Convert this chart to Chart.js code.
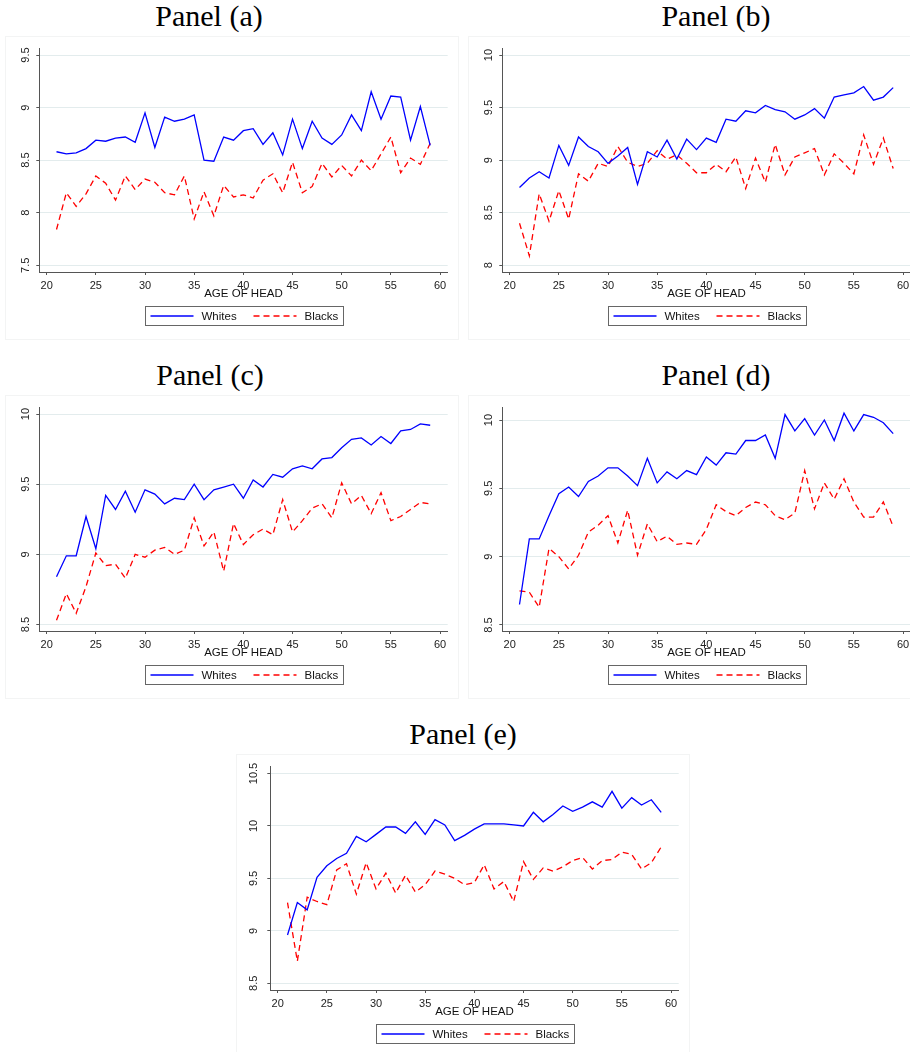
<!DOCTYPE html>
<html>
<head>
<meta charset="utf-8">
<script src="https://cdn.jsdelivr.net/npm/chart.js@4.4.0/dist/chart.umd.min.js"></script>
<style>
  html, body { margin: 0; padding: 0; background: #fff; overflow: hidden; }
  body { width: 910px; height: 1052px; position: relative; }
  .title { position: absolute; width: 240px; text-align: center; font-family: "Liberation Serif", "DejaVu Serif", serif;
           font-size: 30px; line-height: 26px; color: #000; white-space: nowrap; }
  canvas { position: absolute; }
</style>
</head>
<body>

<div class="title" style="left:89px; top:3px;">Panel (a)</div>
<div class="title" style="left:596px; top:3px;">Panel (b)</div>
<div class="title" style="left:90px; top:362px;">Panel (c)</div>
<div class="title" style="left:596px; top:362px;">Panel (d)</div>
<div class="title" style="left:343px; top:721px;">Panel (e)</div>

<canvas id="panelA" width="454" height="304" style="left:5px; top:36px;"></canvas>
<canvas id="panelB" width="454" height="304" style="left:468px; top:36px;"></canvas>
<canvas id="panelC" width="454" height="304" style="left:5px; top:395px;"></canvas>
<canvas id="panelD" width="454" height="304" style="left:468px; top:395px;"></canvas>
<canvas id="panelE" width="454" height="304" style="left:236px; top:754px;"></canvas>

<script>
// age of household head
const ages = [21, 22, 23, 24, 25, 26, 27, 28, 29, 30, 31, 32, 33, 34, 35, 36, 37, 38, 39, 40,
              41, 42, 43, 44, 45, 46, 47, 48, 49, 50, 51, 52, 53, 54, 55, 56, 57, 58, 59];
const xTicks = [20, 25, 30, 35, 40, 45, 50, 55, 60];

// panel (a)
const whitesA = [8.58, 8.56, 8.57, 8.61, 8.69, 8.68, 8.71, 8.72, 8.67, 8.95, 8.62, 8.91, 8.87, 8.89, 8.93, 8.50, 8.49, 8.72, 8.69, 8.78,
                 8.80, 8.65, 8.76, 8.55, 8.89, 8.61, 8.87, 8.71, 8.65, 8.74, 8.93, 8.78, 9.15, 8.89, 9.11, 9.10, 8.69, 9.01, 8.64];
const blacksA = [7.84, 8.19, 8.06, 8.18, 8.35, 8.28, 8.12, 8.35, 8.22, 8.32, 8.29, 8.19, 8.17, 8.35, 7.94, 8.20, 7.97, 8.26, 8.15, 8.17,
                 8.14, 8.31, 8.37, 8.19, 8.48, 8.19, 8.25, 8.47, 8.34, 8.45, 8.35, 8.50, 8.40, 8.56, 8.72, 8.38, 8.52, 8.46, 8.66];
const yTicksA = [7.5, 8, 8.5, 9, 9.5];

// panel (b)
const whitesB = [8.74, 8.83, 8.89, 8.83, 9.14, 8.95, 9.22, 9.13, 9.08, 8.97, 9.04, 9.12, 8.77, 9.08, 9.03, 9.19, 9.01, 9.20, 9.10, 9.21,
                 9.17, 9.39, 9.37, 9.47, 9.45, 9.52, 9.48, 9.46, 9.39, 9.43, 9.49, 9.40, 9.60, 9.62, 9.64, 9.70, 9.57, 9.60, 9.69];
const blacksB = [8.40, 8.09, 8.68, 8.42, 8.71, 8.44, 8.87, 8.80, 8.97, 8.94, 9.13, 8.98, 8.94, 8.97, 9.09, 9.01, 9.05, 8.97, 8.88, 8.88,
                 8.96, 8.89, 9.03, 8.73, 9.02, 8.79, 9.15, 8.86, 9.03, 9.07, 9.11, 8.86, 9.06, 8.97, 8.87, 9.24, 8.96, 9.21, 8.92];
const yTicksB = [8, 8.5, 9, 9.5, 10];

// panel (c)
const whitesC = [8.84, 8.99, 8.99, 9.27, 9.04, 9.42, 9.32, 9.45, 9.30, 9.46, 9.43, 9.36, 9.40, 9.39, 9.50, 9.39, 9.46, 9.48, 9.50, 9.40,
                 9.53, 9.48, 9.57, 9.55, 9.61, 9.63, 9.61, 9.68, 9.69, 9.76, 9.82, 9.83, 9.78, 9.84, 9.79, 9.88, 9.89, 9.93, 9.92];
const blacksC = [8.53, 8.72, 8.58, 8.77, 9.01, 8.92, 8.93, 8.83, 9.00, 8.98, 9.03, 9.05, 9.00, 9.03, 9.26, 9.06, 9.16, 8.88, 9.22, 9.07,
                 9.14, 9.18, 9.14, 9.39, 9.16, 9.24, 9.33, 9.36, 9.26, 9.51, 9.36, 9.42, 9.29, 9.44, 9.24, 9.27, 9.32, 9.37, 9.36];
const yTicksC = [8.5, 9, 9.5, 10];

// panel (d)
const whitesD = [8.65, 9.13, 9.13, 9.30, 9.46, 9.51, 9.44, 9.55, 9.59, 9.65, 9.65, 9.59, 9.52, 9.72, 9.54, 9.62, 9.57, 9.63, 9.60, 9.73,
                 9.67, 9.76, 9.75, 9.85, 9.85, 9.89, 9.72, 10.04, 9.92, 10.01, 9.89, 10.00, 9.85, 10.05, 9.92, 10.04, 10.02, 9.98, 9.90];
const blacksD = [8.75, 8.74, 8.63, 9.06, 9.00, 8.91, 9.01, 9.18, 9.23, 9.30, 9.10, 9.34, 9.01, 9.24, 9.11, 9.15, 9.09, 9.10, 9.09, 9.20,
                 9.38, 9.33, 9.30, 9.36, 9.40, 9.38, 9.30, 9.27, 9.32, 9.63, 9.35, 9.54, 9.42, 9.57, 9.40, 9.29, 9.29, 9.40, 9.22];
const yTicksD = [8.5, 9, 9.5, 10];

// panel (e)
const whitesE = [8.96, 9.27, 9.20, 9.51, 9.62, 9.69, 9.74, 9.90, 9.85, 9.92, 9.99, 9.99, 9.93, 10.04, 9.92, 10.06, 10.01, 9.86, 9.91, 9.97,
                 10.02, 10.02, 10.02, 10.01, 10.00, 10.13, 10.04, 10.11, 10.19, 10.14, 10.18, 10.23, 10.18, 10.33, 10.17, 10.27, 10.20, 10.25, 10.13];
const blacksE = [9.27, 8.71, 9.32, 9.28, 9.25, 9.58, 9.64, 9.35, 9.65, 9.40, 9.55, 9.36, 9.53, 9.37, 9.44, 9.57, 9.54, 9.50, 9.44, 9.46,
                 9.63, 9.40, 9.47, 9.28, 9.66, 9.49, 9.60, 9.57, 9.61, 9.67, 9.70, 9.59, 9.67, 9.68, 9.75, 9.73, 9.59, 9.65, 9.80];
const yTicksE = [8.5, 9, 9.5, 10, 10.5];

const axisFont = { family: "Liberation Sans, Arial, sans-serif", size: 11 };

// faint graph frame + stata-style boxed legend under the axis title
const frameAndLegend = {
  id: "frameAndLegend",
  afterDraw(chart) {
    const { ctx, chartArea, width, height } = chart;
    ctx.save();
    ctx.strokeStyle = "#f3f4f4";
    ctx.lineWidth = 1;
    ctx.setLineDash([]);
    ctx.strokeRect(0.5, 0.5, width - 1, height - 1);

    const cx = (chartArea.left + chartArea.right) / 2;
    const left = Math.round(cx - 99) + 0.5;
    const top = Math.round(chartArea.bottom + 34) + 0.5;
    ctx.strokeStyle = "#666";
    ctx.strokeRect(left, top, 198, 19);

    const mid = top + 9.5;
    const offsets = [5, 108];
    chart.data.datasets.forEach((ds, i) => {
      const x0 = left + offsets[i];
      ctx.strokeStyle = ds.borderColor;
      ctx.lineWidth = ds.borderWidth;
      ctx.setLineDash(ds.borderDash || []);
      ctx.beginPath();
      ctx.moveTo(x0, mid);
      ctx.lineTo(x0 + 43, mid);
      ctx.stroke();
      ctx.setLineDash([]);
      ctx.fillStyle = "#111";
      ctx.font = "11.5px 'Liberation Sans', Arial, sans-serif";
      ctx.textBaseline = "middle";
      ctx.fillText(ds.label, x0 + 51, mid + 0.5);
    });
    ctx.restore();
  }
};

function drawPanel(canvasId, whites, blacks, yTicks, yMin, yMax) {

  new Chart(document.getElementById(canvasId), {
    type: "line",
    data: {
      datasets: [{
        label: "Whites",
        data: ages.map((a, i) => ({ x: a, y: whites[i] })),
        borderColor: "#0000ff",
        borderWidth: 1.3,
        pointRadius: 0,
        tension: 0
      }, {
        label: "Blacks",
        data: ages.map((a, i) => ({ x: a, y: blacks[i] })),
        borderColor: "#ff0000",
        borderWidth: 1.3,
        borderDash: [6, 4],
        pointRadius: 0,
        tension: 0
      }]
    },
    options: {
      responsive: false,
      animation: false,
      layout: { padding: { top: 12.3, right: 11.3, bottom: 39.1, left: 0 } },
      plugins: { legend: { display: false }, tooltip: { enabled: false } },
      scales: {
        x: {
          type: "linear",
          min: 19.25,
          max: 60.78,
          afterBuildTicks: s => { s.ticks = xTicks.map(v => ({ value: v })); },
          afterFit: s => { s.height = 28.9; },
          grid: { drawOnChartArea: false, tickLength: 3, tickColor: "#555" },
          border: { color: "#555" },
          ticks: { font: axisFont, color: "#222", padding: 4, maxRotation: 0, autoSkip: false },
          title: { display: true, text: "AGE OF HEAD", color: "#111", padding: 0,
                   font: { family: "Liberation Sans, Arial, sans-serif", size: 11.5 } }
        },
        y: {
          min: yMin,
          max: yMax,
          afterBuildTicks: s => { s.ticks = yTicks.map(v => ({ value: v })); },
          afterFit: s => { s.width = 34.3; },
          grid: { color: "#e3eced", tickLength: 3, tickColor: "#555" },
          border: { color: "#555" },
          ticks: { font: axisFont, color: "#222", minRotation: 90, maxRotation: 90,
                   crossAlign: "center", padding: 3, callback: v => String(v) }
        }
      }
    },
    plugins: [frameAndLegend]
  });
}

drawPanel("panelA", whitesA, blacksA, yTicksA, 7.436, 9.564);
drawPanel("panelB", whitesB, blacksB, yTicksB, 7.936, 10.064);
drawPanel("panelC", whitesC, blacksC, yTicksC, 8.454, 10.048);
drawPanel("panelD", whitesD, blacksD, yTicksD, 8.456, 10.093);
drawPanel("panelE", whitesE, blacksE, yTicksE, 8.436, 10.569);
</script>
</body>
</html>
